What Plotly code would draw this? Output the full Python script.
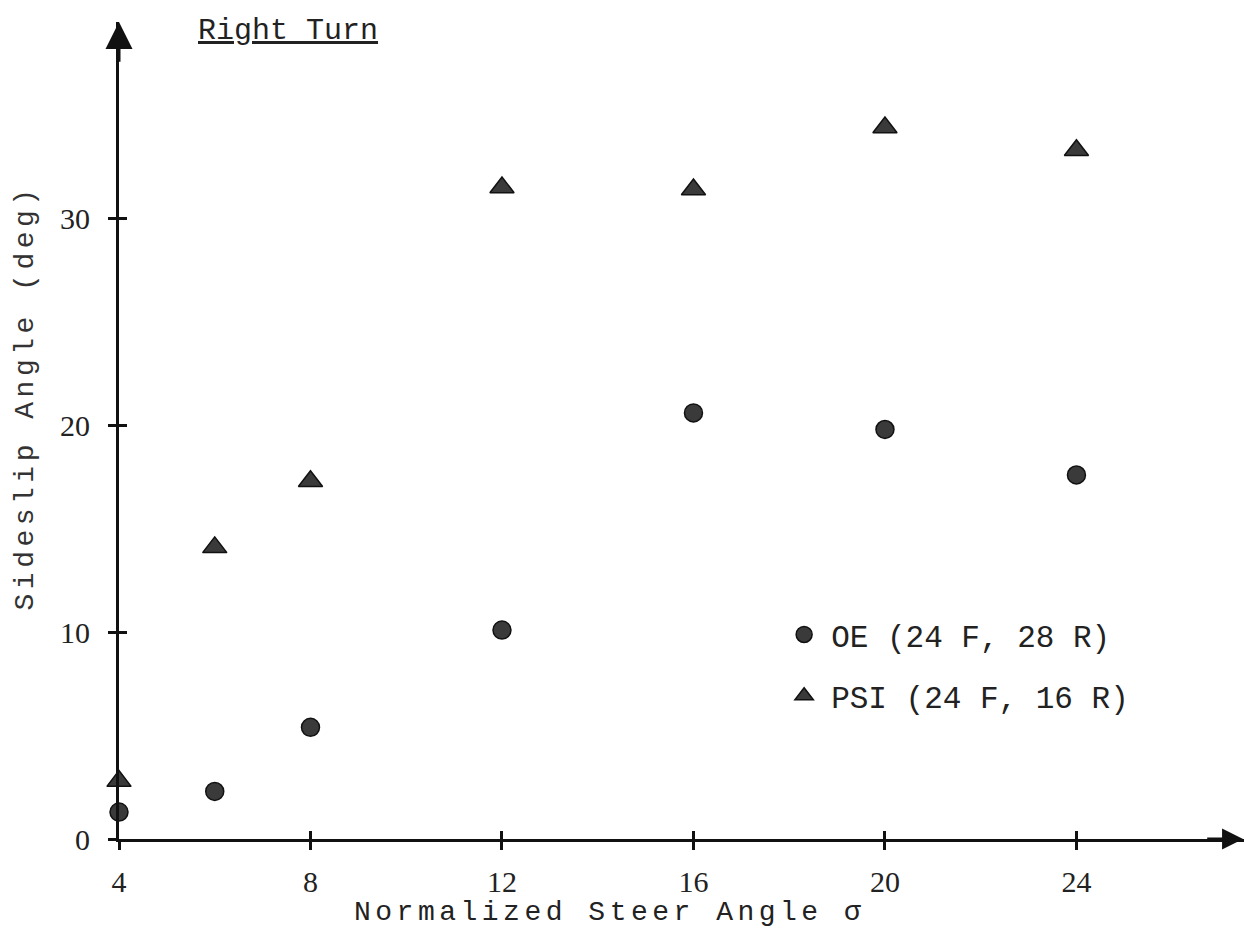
import plotly.graph_objects as go

# Data
steer = [4, 6, 8, 12, 16, 20, 24]
oe_sideslip = [1.3, 2.3, 5.4, 10.1, 20.6, 19.8, 17.6]
psi_sideslip = [2.8, 14.1, 17.3, 31.5, 31.4, 34.4, 33.3]
x_ticks = [4, 8, 12, 16, 20, 24]
y_ticks = [0, 10, 20, 30]
series_names = ["OE (24 F, 28 R)", "PSI (24 F, 16 R)"]

MONO = "Liberation Mono"
SERIF = "Liberation Serif"
INK = "#222222"
AXC = "#111111"

fig = go.Figure()
fig.add_trace(go.Scatter(
    x=steer, y=oe_sideslip, mode="markers", name=series_names[0],
    legendgroup="oe", cliponaxis=False,
    marker=dict(symbol="circle", size=18, color="#3a3a3a",
                line=dict(color=AXC, width=1.5)),
))
fig.add_trace(go.Scatter(
    x=steer, y=psi_sideslip, mode="markers", name=series_names[1],
    legendgroup="psi", cliponaxis=False,
    marker=dict(symbol="triangle-up", size=21, color="#3a3a3a",
                line=dict(color=AXC, width=1.5)),
))

X_MIN, X_MAX = 4, 27.5
Y_MIN, Y_MAX = 0, 39.5

axis_common = dict(showgrid=False, zeroline=False, showline=True,
                   linecolor=AXC, linewidth=3)
fig.update_layout(
    width=1244, height=935,
    margin=dict(l=119, r=0, t=22, b=96),
    paper_bgcolor="white", plot_bgcolor="white",
    showlegend=True,
    legend=dict(x=0.585, y=0.283, xanchor="left", yanchor="top",
                font=dict(family=MONO, size=31, color=INK),
                tracegroupgap=18, itemwidth=44,
                bgcolor="rgba(0,0,0,0)"),
    xaxis=dict(range=[X_MIN, X_MAX], tickvals=x_ticks,
               ticktext=[str(v) for v in x_ticks],
               ticks="outside", ticklen=8, tickwidth=3, tickcolor=AXC,
               ticklabelstandoff=6,
               tickfont=dict(family=SERIF, size=30, color=INK), **axis_common),
    yaxis=dict(range=[Y_MIN, Y_MAX], tickvals=y_ticks,
               ticktext=[str(v) for v in y_ticks],
               ticks="outside", ticklen=8, tickwidth=3, tickcolor=AXC,
               ticklabelstandoff=12,
               tickfont=dict(family=SERIF, size=30, color=INK), **axis_common),
    # overlay axes providing the inner half of the crossing tick marks
    xaxis2=dict(overlaying="x", matches="x", anchor="y", side="bottom",
                tickvals=x_ticks, ticks="inside", ticklen=8, tickwidth=3,
                tickcolor=AXC, showticklabels=False, showgrid=False,
                zeroline=False, showline=False),
    yaxis2=dict(overlaying="y", matches="y", anchor="x", side="left",
                tickvals=y_ticks, ticks="inside", ticklen=8, tickwidth=3,
                tickcolor=AXC, showticklabels=False, showgrid=False,
                zeroline=False, showline=False),
)
# invisible trace to activate overlay axes
fig.add_trace(go.Scatter(x=[steer[0]], y=[oe_sideslip[0]], xaxis="x2", yaxis="y2",
                         mode="markers", marker=dict(opacity=0), showlegend=False,
                         hoverinfo="skip"))

# arrowheads at the axis ends
fig.add_annotation(x=X_MAX - 0.02, y=0, ax=X_MAX - 0.8, ay=0, xref="x", yref="y",
                   axref="x", ayref="y", text="", showarrow=True,
                   arrowhead=2, arrowsize=1.4, arrowwidth=3, arrowcolor=AXC)
fig.add_annotation(x=X_MIN, y=Y_MAX, ax=X_MIN, ay=Y_MAX - 2.0, xref="x", yref="y",
                   axref="x", ayref="y", text="", showarrow=True,
                   arrowhead=2, arrowsize=1.8, arrowwidth=3, arrowcolor=AXC)

# title and axis titles
fig.add_annotation(text="<u>Right Turn</u>", xref="paper", yref="paper",
                   x=0.068, y=0.989, xanchor="left", yanchor="middle",
                   showarrow=False, font=dict(family=MONO, size=30, color=INK))
fig.add_annotation(text="Normalized Steer Angle σ", xref="paper", yref="paper",
                   x=0.436, y=-0.09, xanchor="center", yanchor="middle",
                   showarrow=False, font=dict(family=MONO, size=28, color=INK))
fig.add_annotation(text="Sideslip Angle (deg)", xref="paper", yref="paper",
                   x=-0.083, y=0.54, xanchor="center", yanchor="middle",
                   textangle=-90, showarrow=False,
                   font=dict(family=MONO, size=28, color="#333333"))

# typewriter-style letter spacing for the two axis titles
post = """
var s = document.createElement('style');
s.textContent = "text.annotation-text[data-unformatted^='Normalized'],"
 + "text.annotation-text[data-unformatted^='Sideslip']{letter-spacing:4.5px;}";
document.head.appendChild(s);
"""
fig.write_html("out.html", post_script=post)
